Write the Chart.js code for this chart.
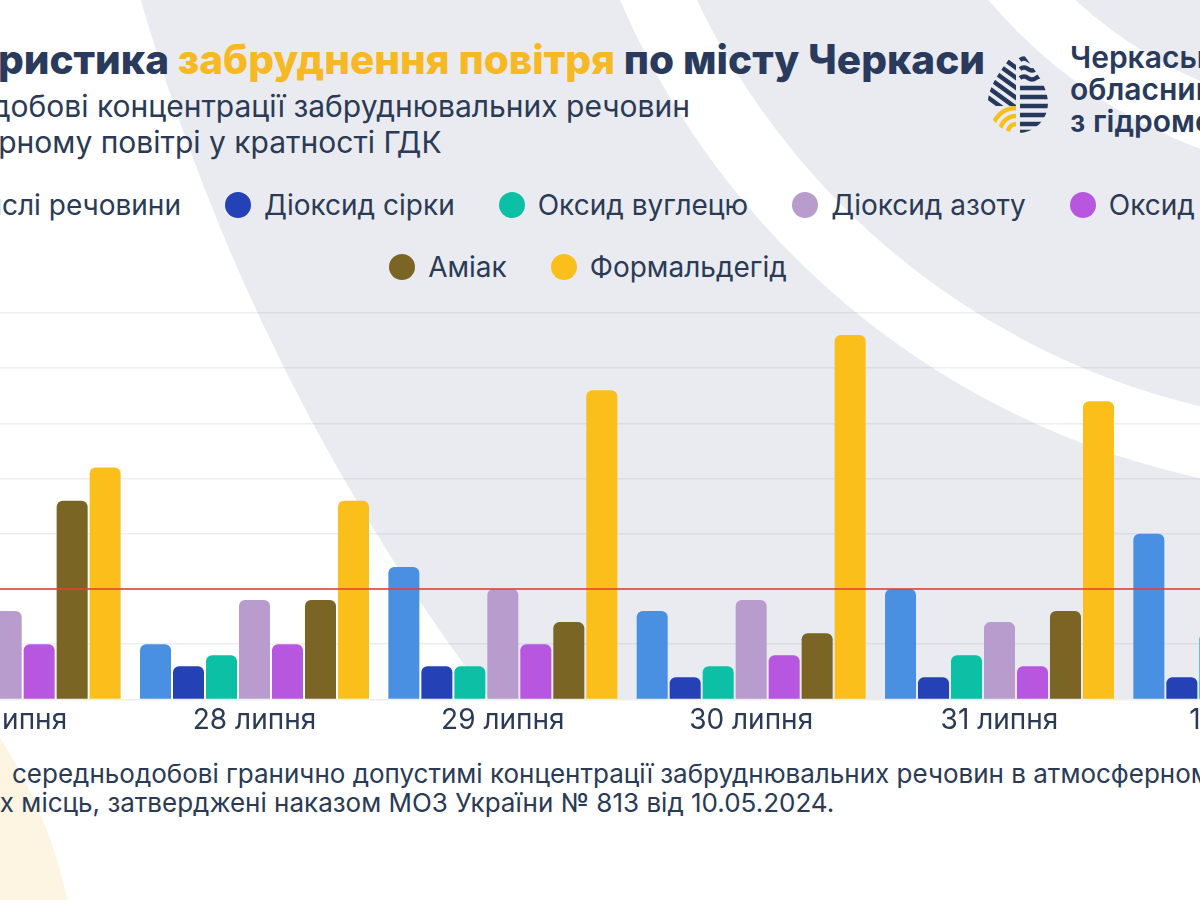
<!DOCTYPE html>
<html lang="uk">
<head>
<meta charset="utf-8">
<title>Характеристика забруднення повітря по місту Черкаси</title>
<script src="https://cdn.jsdelivr.net/npm/chart.js@4.4.1/dist/chart.umd.min.js"></script>
<style>
  html, body { margin: 0; padding: 0; }
  body {
    width: 1200px; height: 900px; overflow: hidden; position: relative;
    background: #fff; font-family: Inter, "Noto Sans", sans-serif; color: #2b3a55;
  }
  #bg { position: absolute; left: 0; top: 0; }
  .title {
    position: absolute; right: 215px; top: 36px; white-space: nowrap;
    font-size: 40.5px; line-height: 48px; font-weight: 800; color: #2a3a5c;
  }
  .title span { color: #f6b923; }
  .subtitle {
    position: absolute; right: 510px; top: 88px; white-space: nowrap;
    font-size: 30px; line-height: 36px;
  }
  .logo-icon { position: absolute; left: 985px; top: 44px; }
  .logo-text {
    position: absolute; left: 1070px; top: 41px; white-space: nowrap;
    font-size: 30px; line-height: 32px; font-weight: 600; color: #2a3a5c;
  }
  #legend { position: absolute; left: -112px; width: 1400px; top: 190px; }
  #legend ul {
    display: flex; flex-wrap: wrap; justify-content: center;
    list-style: none; margin: 0; padding: 0; row-gap: 32px; column-gap: 44px;
  }
  #legend li { display: flex; align-items: center; height: 30px; font-size: 28px; white-space: nowrap; }
  #legend li i { display: block; width: 26px; height: 26px; border-radius: 50%; margin-right: 13px; }
  .chart-box { position: absolute; left: -118px; top: 300px; width: 1490px; height: 441px; }
  .note {
    position: absolute; left: -95px; top: 759px; white-space: nowrap;
    font-size: 26px; line-height: 29px;
  }
  #notePrefix { display: inline-block; text-align: right; box-sizing: border-box; padding-right: 14px; }
</style>
</head>
<body>

<svg id="bg" width="1200" height="900">
  <defs>
    <clipPath id="upper"><rect x="0" y="0" width="1200" height="699"/></clipPath>
  </defs>
  <circle cx="-400" cy="1000" r="478" fill="#fdf4e2"/>
  <g clip-path="url(#upper)">
    <circle cx="2200" cy="-590" r="2142" fill="#eaebf0"/>
    <circle cx="1375" cy="-325" r="822" fill="#ffffff"/>
    <circle cx="1375" cy="-325" r="752" fill="#eaebf0"/>
    <circle cx="1375" cy="-325" r="505" fill="#ffffff"/>
    <circle cx="1375" cy="-325" r="442" fill="#eaebf0"/>
  </g>
</svg>

<div class="title">Характеристика <span>забруднення повітря</span> по місту Черкаси</div>
<div class="subtitle">Середньодобові концентрації забруднювальних речовин<br>в атмосферному повітрі у кратності ГДК</div>

<svg class="logo-icon" width="66" height="90" viewBox="0 0 66 90">
  <defs>
    <clipPath id="drop"><path d="M33 1 C38 14 63 36 63 59 A30 30 0 0 1 3 59 C3 36 28 14 33 1 Z"/></clipPath>
    <clipPath id="leftHalf"><rect x="0" y="0" width="31" height="62"/></clipPath>
    <clipPath id="leftLow"><rect x="0" y="62" width="31" height="30"/></clipPath>
  </defs>
  <g clip-path="url(#drop)">
    <g clip-path="url(#leftHalf)" stroke="#26385c" stroke-width="4.5">
      <line x1="-10" y1="-6" x2="34" y2="26"/>
      <line x1="-10" y1="4" x2="34" y2="36"/>
      <line x1="-10" y1="14" x2="34" y2="46"/>
      <line x1="-10" y1="24" x2="34" y2="56"/>
      <line x1="-10" y1="34" x2="34" y2="66"/>
      <line x1="-10" y1="44" x2="34" y2="76"/>
    </g>
    <g clip-path="url(#leftLow)" fill="none" stroke="#f4c01e" stroke-width="4.5">
      <circle cx="31" cy="88" r="8"/>
      <circle cx="31" cy="88" r="16"/>
      <circle cx="31" cy="88" r="24"/>
    </g>
    <g stroke="#26385c" stroke-width="4.5" fill="none">
      <path d="M35 16 q4 -3 8 0 t8 0 t8 0 t8 0"/>
      <path d="M35 25 q4 -3 8 0 t8 0 t8 0 t8 0"/>
      <path d="M35 34 q4 -3 8 0 t8 0 t8 0 t8 0"/>
      <line x1="35" y1="44" x2="66" y2="44"/>
      <line x1="35" y1="53" x2="66" y2="53"/>
      <line x1="35" y1="62" x2="66" y2="62"/>
      <line x1="35" y1="71" x2="66" y2="71"/>
      <line x1="35" y1="80" x2="66" y2="80"/>
      <line x1="35" y1="88" x2="66" y2="88"/>
    </g>
  </g>
</svg>
<div class="logo-text">Черкаський<br>обласний центр<br>з гідрометеорології</div>

<div id="legend"><ul></ul></div>

<div class="chart-box"><canvas id="pollutionChart"></canvas></div>

<div class="note" id="note"><span id="notePrefix">* ГДК –</span>середньодобові гранично допустимі концентрації забруднювальних речовин в атмосферному повітрі<br><span id="noteHidden">населени</span>х місць, затверджені наказом МОЗ України № 813 від 10.05.2024.</div>

<script>
// Days on the x axis
const days = ['27 липня', '28 липня', '29 липня', '30 липня', '31 липня', '1 серпня'];

// Daily concentrations, in multiples of the limit value (ГДК)
const suspendedMatter = [0.6, 0.5, 1.2, 0.8, 1.0, 1.5];
const sulfurDioxide = [0.2, 0.3, 0.3, 0.2, 0.2, 0.2];
const carbonMonoxide = [0.4, 0.4, 0.3, 0.3, 0.4, 0.6];
const nitrogenDioxide = [0.8, 0.9, 1.0, 0.9, 0.7, 0.8];
const nitrogenOxide = [0.5, 0.5, 0.5, 0.4, 0.3, 0.4];
const ammonia = [1.8, 0.9, 0.7, 0.6, 0.8, 0.7];
const formaldehyde = [2.1, 1.8, 2.8, 3.3, 2.7, 2.5];

// Limit line and value axis range
const gdkLimit = 1;
const yMax = 3.5;
const yStep = 0.5;

const textColor = '#2b3a55';

function makeSeries(label, data, color) {
    return {
        label: label,
        data: data,
        backgroundColor: color,
        borderRadius: 6,
        borderSkipped: 'start',
        barPercentage: 0.94,
        categoryPercentage: 0.93
    };
}

// Red horizontal line at 1 ГДК, drawn over the bars
const gdkLinePlugin = {
    id: 'gdkLine',
    afterDatasetsDraw(chart) {
        const { ctx, chartArea, scales } = chart;
        const yPos = scales.y.getPixelForValue(gdkLimit);
        ctx.save();
        ctx.strokeStyle = 'rgba(232, 62, 52, 0.8)';
        ctx.lineWidth = 2;
        ctx.beginPath();
        ctx.moveTo(chartArea.left, yPos);
        ctx.lineTo(chartArea.right, yPos);
        ctx.stroke();
        ctx.restore();
    }
};

// Legend as HTML, built from the chart's own legend items
const htmlLegendPlugin = {
    id: 'htmlLegend',
    afterUpdate(chart) {
        const list = document.querySelector('#legend ul');
        list.innerHTML = '';
        const items = chart.options.plugins.legend.labels.generateLabels(chart);
        items.forEach(item => {
            const li = document.createElement('li');
            const dot = document.createElement('i');
            dot.style.background = item.fillStyle;
            const text = document.createElement('span');
            text.textContent = item.text;
            li.appendChild(dot);
            li.appendChild(text);
            list.appendChild(li);
        });
    }
};

// Line up the footnote: second line starts where the original does,
// first line's visible text starts at x = 12
const hiddenWidth = document.getElementById('noteHidden').offsetWidth;
document.getElementById('note').style.left = (-hiddenWidth) + 'px';
document.getElementById('notePrefix').style.width = (hiddenWidth + 12) + 'px';

const ctx = document.getElementById('pollutionChart').getContext('2d');
new Chart(ctx, {
    type: 'bar',
    data: {
        labels: days,
        datasets: [
            makeSeries('Завислі речовини', suspendedMatter, '#4a90e2'),
            makeSeries('Діоксид сірки', sulfurDioxide, '#2441b5'),
            makeSeries('Оксид вуглецю', carbonMonoxide, '#0cc0a5'),
            makeSeries('Діоксид азоту', nitrogenDioxide, '#b89ccd'),
            makeSeries('Оксид азоту', nitrogenOxide, '#b756df'),
            makeSeries('Аміак', ammonia, '#7a6524'),
            makeSeries('Формальдегід', formaldehyde, '#fbbf1b')
        ]
    },
    options: {
        responsive: true,
        maintainAspectRatio: false,
        animation: false,
        layout: { padding: { top: 13, bottom: 0, left: 0, right: 0 } },
        plugins: {
            legend: { display: false },
            tooltip: { enabled: false }
        },
        scales: {
            x: {
                grid: { display: false, drawTicks: false },
                border: { display: false },
                ticks: {
                    color: textColor,
                    padding: 4,
                    font: { family: 'Inter', size: 28 }
                }
            },
            y: {
                min: 0,
                max: yMax,
                ticks: { display: false, stepSize: yStep },
                grid: { color: 'rgba(120, 125, 150, 0.13)', lineWidth: 1.5, drawTicks: false },
                border: { display: false }
            }
        }
    },
    plugins: [gdkLinePlugin, htmlLegendPlugin]
});
</script>
</body>
</html>
